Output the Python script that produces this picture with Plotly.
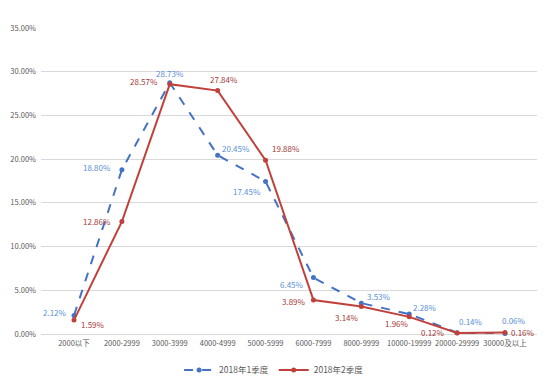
import plotly.graph_objects as go

categories = ["2000以下", "2000-2999", "3000-3999", "4000-4999", "5000-5999",
              "6000-7999", "8000-9999", "10000-19999", "20000-29999", "30000及以上"]
q1_values = [2.12, 18.80, 28.73, 20.45, 17.45, 6.45, 3.53, 2.28, 0.14, 0.06]
q2_values = [1.59, 12.86, 28.57, 27.84, 19.88, 3.89, 3.14, 1.96, 0.12, 0.16]
series_names = ["2018年1季度", "2018年2季度"]
y_ticks = [0, 5, 10, 15, 20, 25, 30, 35]

# label placement: (xanchor, xshift px, yshift px)
q1_label_pos = [("right", -5, 3), ("right", -9, 2), ("center", 0, 9), ("left", 2, 7),
                ("right", -3, -10), ("right", -7, -7), ("left", 4, 7), ("left", 2, 7),
                ("left", 0, 11), ("left", -5, 13)]
q2_label_pos = [("left", 5, -4), ("right", -9, 0), ("right", -10, 3), ("center", 6, 11),
                ("left", 4, 12), ("right", -5, -2), ("right", 0, -11), ("right", 2, -7),
                ("right", -10, 0), ("left", 4, 0)]

font_family = "Noto Sans CJK SC, Microsoft YaHei, sans-serif"
BLUE_LINE, BLUE_TEXT = "#4472C4", "#5B8FD6"
RED_LINE, RED_TEXT = "#C0413B", "#A33B38"

fig = go.Figure()
fig.add_trace(go.Scatter(
    x=categories, y=[v / 100 for v in q1_values], name=series_names[0],
    mode="lines+markers",
    line=dict(color=BLUE_LINE, width=2, dash="dash"),
    marker=dict(size=5, color=BLUE_LINE),
    cliponaxis=False,
))
fig.add_trace(go.Scatter(
    x=categories, y=[v / 100 for v in q2_values], name=series_names[1],
    mode="lines+markers",
    line=dict(color=RED_LINE, width=2),
    marker=dict(size=5, color=RED_LINE),
    cliponaxis=False,
))

annotations = []
for vals, pos, col in [(q1_values, q1_label_pos, BLUE_TEXT), (q2_values, q2_label_pos, RED_TEXT)]:
    for cat, v, (xa, dx, dy) in zip(categories, vals, pos):
        annotations.append(dict(
            x=cat, y=v / 100, xref="x", yref="y", text=f"{v:.2f}%",
            showarrow=False, xanchor=xa, yanchor="middle", xshift=dx, yshift=dy,
            font=dict(size=8, color=col, family=font_family),
        ))

fig.update_layout(
    width=542, height=374,
    margin=dict(l=33, r=13, t=20, b=48, autoexpand=False),
    paper_bgcolor="white", plot_bgcolor="white",
    font=dict(family=font_family, size=8, color="#595959"),
    showlegend=True,
    legend=dict(orientation="h", x=0.47, xanchor="center", y=-0.1175, yanchor="middle",
                font=dict(size=8.5, color="#595959"), itemwidth=30),
    annotations=annotations,
    xaxis=dict(showgrid=False, showline=False, ticks="", tickfont=dict(size=7.5),
               tickangle=0, automargin=False, ticklabelstandoff=3),
    yaxis=dict(range=[0, 0.35], tickvals=[t / 100 for t in y_ticks],
               ticktext=[f"{t:.2f}%" for t in y_ticks],
               showgrid=True, gridcolor="#D9D9D9", gridwidth=1,
               zeroline=True, zerolinecolor="#D9D9D9", zerolinewidth=1,
               showline=False, ticks="", tickfont=dict(size=7.5), automargin=False,
               ticklabelstandoff=4),
)

fig.write_html("out.html")
